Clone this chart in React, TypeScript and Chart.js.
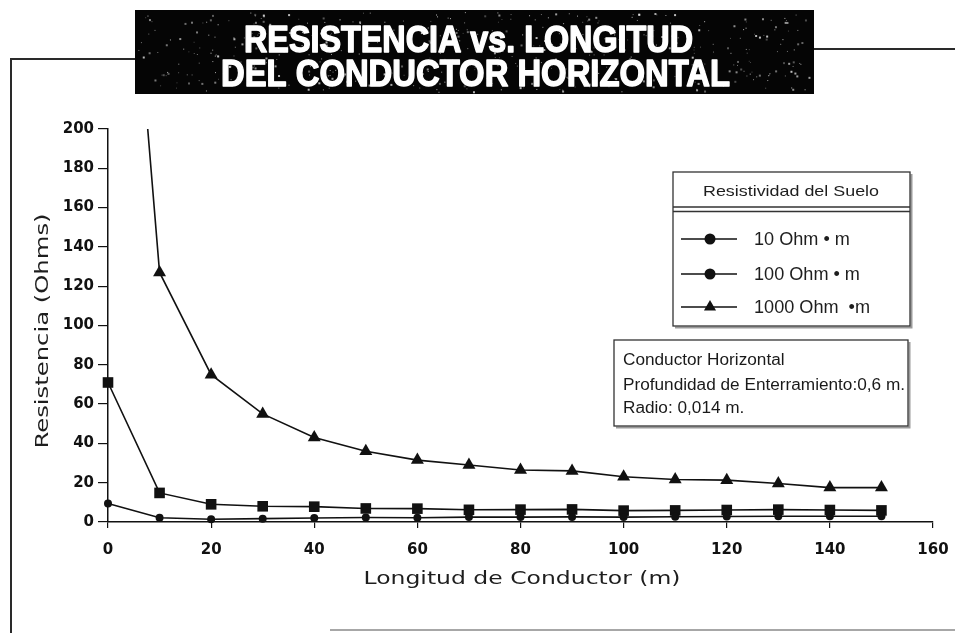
import React, { useEffect, useRef } from 'react';
import { Chart, registerables } from 'chart.js';

Chart.register(...registerables);

// ---- data ----
const lengths = [0, 10, 20, 30, 40, 50, 60, 70, 80, 90, 100, 110, 120, 130, 140, 150];
const r10 = [9.4, 2.2, 1.4, 1.7, 2.0, 2.3, 2.2, 2.5, 2.5, 2.6, 2.5, 2.7, 2.8, 2.9, 2.9, 2.9];
const r100 = [71, 14.8, 9, 8, 7.8, 6.9, 6.8, 6.2, 6.3, 6.4, 5.8, 5.9, 6.1, 6.3, 6.1, 5.9];
const r1000 = [445, 127, 75, 55, 43, 36, 31.5, 29, 26.5, 26, 23, 21.6, 21.3, 19.6, 17.5, 17.5];
const seriesLabels = ['10 Ohm • m', '100 Ohm • m', '1000 Ohm  •m'];
const seriesMarkers = ['circle', 'rect', 'triangle'];
const legendMarkers = ['circle', 'circle', 'triangle'];
const xTicks = [0, 20, 40, 60, 80, 100, 120, 140, 160];
const yTicks = [0, 20, 40, 60, 80, 100, 120, 140, 160, 180, 200];
const titleLines = ['RESISTENCIA vs. LONGITUD', 'DEL CONDUCTOR HORIZONTAL'];
const legendTitle = 'Resistividad del Suelo';
const noteLines = ['Conductor Horizontal', 'Profundidad de Enterramiento:0,6 m.', 'Radio: 0,014 m.'];
const xTitle = 'Longitud de Conductor (m)';
const yTitle = 'Resistencia (Ohms)';

const INK = '#111111';

function fitText(ctx: CanvasRenderingContext2D, text: string, x: number, y: number, w: number, align: 'left' | 'center', stroke = 0) {
  const m = ctx.measureText(text).width;
  const s = w / m;
  ctx.save();
  ctx.translate(x, y);
  ctx.scale(s, 1);
  ctx.textAlign = 'left';
  const tx = align === 'center' ? -m / 2 : 0;
  ctx.fillText(text, tx, 0);
  if (stroke > 0) {
    ctx.lineWidth = stroke;
    ctx.lineJoin = 'round';
    ctx.strokeText(text, tx, 0);
  }
  ctx.restore();
}

function scaledText(ctx: CanvasRenderingContext2D, text: string, x: number, y: number, s: number) {
  ctx.save();
  ctx.translate(x, y);
  ctx.scale(s, 1);
  ctx.textAlign = 'left';
  ctx.fillText(text, 0, 0);
  ctx.restore();
}

function marker(ctx: CanvasRenderingContext2D, style: string, x: number, y: number, r: number) {
  ctx.beginPath();
  if (style === 'circle') {
    ctx.arc(x, y, r, 0, Math.PI * 2);
  } else if (style === 'rect') {
    const h = r * 0.7071;
    ctx.rect(x - h, y - h, 2 * h, 2 * h);
  } else {
    ctx.moveTo(x, y - r);
    ctx.lineTo(x + r * 0.866, y + r * 0.5);
    ctx.lineTo(x - r * 0.866, y + r * 0.5);
    ctx.closePath();
  }
  ctx.fill();
}

// deterministic decorative speckle for the printed title banner
function speckle(ctx: CanvasRenderingContext2D, x0: number, y0: number, w: number, h: number) {
  let seed = 12345;
  const next = () => {
    seed = (seed * 1103515245 + 12345) % 2147483648;
    return seed / 2147483648;
  };
  for (let i = 0; i < 520; i++) {
    const px = x0 + next() * w;
    const py = y0 + next() * h;
    const a = 0.25 + next() * 0.5;
    const sz = next() < 0.7 ? 1 : 2;
    ctx.fillStyle = `rgba(255,255,255,${a.toFixed(2)})`;
    ctx.fillRect(px, py, sz, sz);
  }
}

const decorPlugin = {
  id: 'decor',
  beforeDraw(chart: any) {
    const ctx: CanvasRenderingContext2D = chart.ctx;
    ctx.save();
    ctx.fillStyle = '#ffffff';
    ctx.fillRect(0, 0, chart.width, chart.height);
    // frame lines
    ctx.strokeStyle = '#2a2a2a';
    ctx.lineWidth = 2;
    ctx.beginPath();
    ctx.moveTo(11, 633);
    ctx.lineTo(11, 59);
    ctx.lineTo(136, 59);
    ctx.moveTo(813, 49);
    ctx.lineTo(955, 49);
    ctx.stroke();
    ctx.strokeStyle = '#8a8a8a';
    ctx.lineWidth = 1.5;
    ctx.beginPath();
    ctx.moveTo(330, 630);
    ctx.lineTo(955, 630);
    ctx.stroke();
    // title box
    ctx.fillStyle = '#050505';
    ctx.fillRect(135, 10, 679, 84);
    speckle(ctx, 137, 12, 675, 80);
    ctx.fillStyle = '#ffffff';
    ctx.strokeStyle = '#ffffff';
    ctx.font = 'bold 37px "Liberation Sans", Arial, sans-serif';
    ctx.textBaseline = 'alphabetic';
    fitText(ctx, titleLines[0], 244, 52, 449, 'left', 1.4);
    fitText(ctx, titleLines[1], 221, 86, 509, 'left', 1.4);
    ctx.restore();
  },
  afterDraw(chart: any) {
    const ctx: CanvasRenderingContext2D = chart.ctx;
    ctx.save();
    // axis titles
    ctx.fillStyle = '#1e1e1e';
    ctx.font = '18px "DejaVu Sans", sans-serif';
    ctx.textBaseline = 'middle';
    fitText(ctx, xTitle, 522, 579, 317, 'center');
    ctx.save();
    ctx.translate(43, 331);
    ctx.rotate(-Math.PI / 2);
    fitText(ctx, yTitle, 0, 0, 235, 'center');
    ctx.restore();

    // legend box
    const lx = 673, ly = 172, lw = 237, lh = 154;
    ctx.fillStyle = '#ffffff';
    ctx.fillRect(lx, ly, lw, lh);
    ctx.strokeStyle = '#9a9a9a';
    ctx.lineWidth = 2;
    ctx.beginPath();
    ctx.moveTo(lx + 2, ly + lh + 1.5);
    ctx.lineTo(lx + lw + 1.5, ly + lh + 1.5);
    ctx.lineTo(lx + lw + 1.5, ly + 2);
    ctx.stroke();
    ctx.strokeStyle = '#333';
    ctx.lineWidth = 1.3;
    ctx.strokeRect(lx, ly, lw, lh);
    ctx.beginPath();
    ctx.moveTo(lx, 207);
    ctx.lineTo(lx + lw, 207);
    ctx.moveTo(lx, 211.5);
    ctx.lineTo(lx + lw, 211.5);
    ctx.stroke();
    ctx.fillStyle = '#1e1e1e';
    ctx.font = '15px "Liberation Sans", Arial, sans-serif';
    ctx.textBaseline = 'middle';
    fitText(ctx, legendTitle, 791, 192, 176, 'center');

    const rows = [239, 274, 307];
    ctx.font = '18px "Liberation Sans", Arial, sans-serif';
    const refW = ctx.measureText(chart.data.datasets[2].label).width;
    const sEntry = 116 / refW;
    chart.data.datasets.forEach((ds: any, i: number) => {
      const y = rows[i];
      ctx.strokeStyle = INK;
      ctx.lineWidth = 1.6;
      ctx.beginPath();
      ctx.moveTo(681, y);
      ctx.lineTo(737, y);
      ctx.stroke();
      ctx.fillStyle = INK;
      marker(ctx, legendMarkers[i], 710, y, legendMarkers[i] === 'triangle' ? 7 : 5.5);
      ctx.fillStyle = '#1e1e1e';
      scaledText(ctx, ds.label, 754, y + 1, sEntry);
    });

    // note box
    const nx = 614, ny = 340, nw = 294, nh = 86;
    ctx.fillStyle = '#ffffff';
    ctx.fillRect(nx, ny, nw, nh);
    ctx.strokeStyle = '#9a9a9a';
    ctx.lineWidth = 2;
    ctx.beginPath();
    ctx.moveTo(nx + 2, ny + nh + 1.5);
    ctx.lineTo(nx + nw + 1.5, ny + nh + 1.5);
    ctx.lineTo(nx + nw + 1.5, ny + 2);
    ctx.stroke();
    ctx.strokeStyle = '#333';
    ctx.lineWidth = 1.3;
    ctx.strokeRect(nx, ny, nw, nh);
    ctx.fillStyle = '#1a1a1a';
    ctx.font = '16px "Liberation Sans", Arial, sans-serif';
    ctx.textBaseline = 'middle';
    const sNote = 282 / ctx.measureText(noteLines[1]).width;
    const noteY = [361, 386, 409];
    noteLines.forEach((t, i) => scaledText(ctx, t, 623, noteY[i], sNote));
    ctx.restore();
  },
};

export default function App() {
  const ref = useRef<HTMLCanvasElement>(null);
  useEffect(() => {
    const canvas = ref.current;
    if (!canvas) return;
    const series = [r10, r100, r1000];
    const chart = new Chart(canvas, {
      type: 'line',
      data: {
        datasets: series.map((vals, i) => ({
          label: seriesLabels[i],
          data: lengths.map((x, j) => ({ x, y: vals[j] })),
          borderColor: INK,
          backgroundColor: INK,
          borderWidth: 1.6,
          pointStyle: seriesMarkers[i] as any,
          pointRadius: seriesMarkers[i] === 'circle' ? 4 : 7.5,
          pointBackgroundColor: INK,
          pointBorderColor: INK,
          pointBorderWidth: 0,
          tension: 0,
          clip: { left: 12, right: 12, top: 0, bottom: 12 } as any,
        })),
      },
      options: {
        responsive: false,
        devicePixelRatio: 1,
        animation: false,
        events: [],
        layout: { autoPadding: false, padding: { left: 0, top: 129, right: 22, bottom: 0 } },
        plugins: {
          legend: { display: false },
          tooltip: { enabled: false },
          title: { display: false },
        },
        scales: {
          x: {
            type: 'linear',
            min: 0,
            max: 160,
            afterFit: (s: any) => { s.height = 111; s.paddingRight = 0; s.paddingLeft = 0; },
            afterBuildTicks: (s: any) => { s.ticks = xTicks.map((v) => ({ value: v })); },
            grid: { display: true, drawOnChartArea: false, drawTicks: true, tickLength: 6, color: INK, lineWidth: 1.2 },
            border: { display: true, color: INK, width: 1.5 },
            ticks: {
              color: '#111',
              padding: 13,
              maxRotation: 0,
              font: { family: '"DejaVu Sans", sans-serif', size: 15, weight: 'bold' },
            },
          },
          y: {
            type: 'linear',
            min: 0,
            max: 200,
            afterFit: (s: any) => { s.width = 108; s.paddingTop = 0; s.paddingBottom = 0; },
            afterBuildTicks: (s: any) => { s.ticks = yTicks.map((v) => ({ value: v })); },
            grid: { display: true, drawOnChartArea: false, drawTicks: true, tickLength: 10, color: INK, lineWidth: 1.2 },
            border: { display: true, color: INK, width: 1.5 },
            ticks: {
              color: '#111',
              padding: 4,
              font: { family: '"DejaVu Sans", sans-serif', size: 15, weight: 'bold' },
            },
          },
        },
      },
      plugins: [decorPlugin],
    });
    return () => chart.destroy();
  }, []);
  return (
    <div style={{ position: 'fixed', left: 0, top: 0, width: 955, height: 633, background: '#fff' }}>
      <canvas ref={ref} width={955} height={633} style={{ display: 'block', width: 955, height: 633 }} />
    </div>
  );
}
